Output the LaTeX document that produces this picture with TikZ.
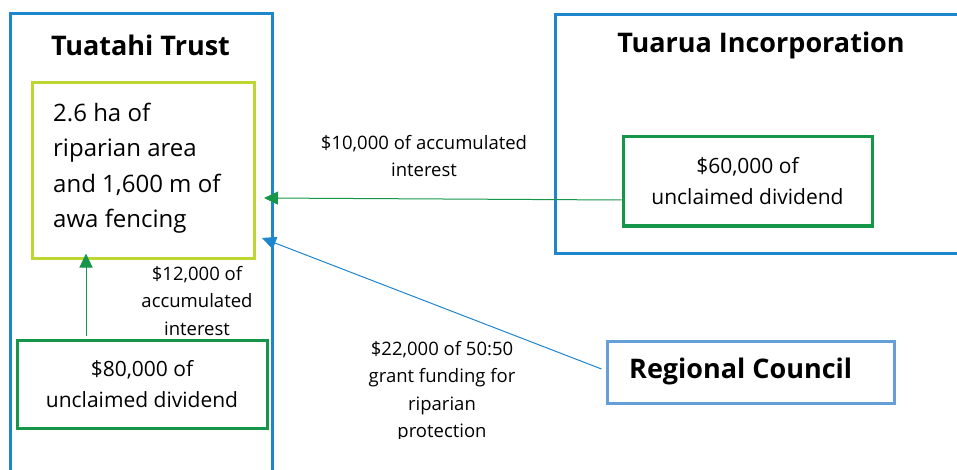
\documentclass[tikz,border=0pt]{standalone}
\usepackage{fontspec}
\setmainfont{Open Sans}
\usetikzlibrary{arrows.meta}
\definecolor{outerblue}{RGB}{30,134,204}
\definecolor{rcblue}{RGB}{100,160,215}
\definecolor{boxgreen}{RGB}{22,150,72}
\definecolor{limegreen}{RGB}{190,214,48}
\tikzset{
  frame/.style={draw=outerblue, line width=3pt, minimum width=#1, inner sep=0pt},
  money/.style={draw=boxgreen, line width=3pt, inner sep=0pt, align=center,
     font={\fontsize{21}{31}\selectfont}},
  title/.style={font={\fontsize{27}{30}\selectfont\bfseries}, inner sep=0pt},
  lbl/.style={font={\fontsize{18.5}{27.5}\selectfont}, align=center, inner sep=0pt},
  flowg/.style={draw=boxgreen, line width=1pt, -{Triangle[length=14pt,width=13pt]}},
  flowb/.style={draw=outerblue, line width=1pt, -{Triangle[length=14pt,width=13pt]}},
}
\begin{document}
\begin{tikzpicture}[x=1pt,y=-1pt]
\useasboundingbox (0,0) rectangle (957,470);
\clip (0,0) rectangle (957,470);
% containers
\node[frame=262pt, minimum height=480pt] (tt) at (141,254) {};
\node[frame=415pt, minimum height=238pt] (ti) at (762.5,134) {};
% inner boxes
\node[draw=limegreen, line width=3pt, minimum width=222pt, minimum height=175pt, inner sep=0pt] (lime) at (143,170.5) {};
\node[money, minimum width=249pt, minimum height=89pt] (g60) at (747.5,181.5) {\$60,000 of\\unclaimed dividend};
\node[money, minimum width=250pt, minimum height=88pt] (g80) at (142,384) {\$80,000 of\\unclaimed dividend};
\node[draw=rcblue, line width=3pt, minimum width=287pt, minimum height=62pt, inner sep=0pt] (rc) at (750.5,372) {};
% titles and texts
\node[title] (ttt) at (140.5,45.5) {Tuatahi Trust};
\node[title] (tit) at (761,45.5) {Tuarua Incorporation};
\node[title, anchor=west] (rct) at (629,371) {Regional Council};
\node[anchor=west, align=left, inner sep=0pt, font={\fontsize{24}{35.5}\selectfont}] (limet) at (53,168)
  {2.6 ha of\\riparian area\\and 1,600 m of\\awa fencing};
% connectors
\coordinate (tipa) at (264,198);
\coordinate (tipb) at (262,238);
\coordinate (rcend) at (601.5,369);
\draw[flowg] ([yshift=-18.5pt]g60.west) -- (tipa);
\draw[flowb] (rcend) -- (tipb);
\draw[flowg] ([xshift=-56pt,yshift=3pt]g80.north) -- ([xshift=-57pt,yshift=6pt]lime.south);
% labels
\node[lbl] (l10) at (424,156) {\$10,000 of accumulated\\interest};
\node[lbl] (l12) at (197,301) {\$12,000 of\\accumulated\\interest};
\begin{scope}
\clip (300,300) rectangle (600,438.5);
\node[lbl] (l22) at (442,391.5) {\$22,000 of 50:50\\grant funding for\\riparian\\protection};
\end{scope}
\end{tikzpicture}
\end{document}
